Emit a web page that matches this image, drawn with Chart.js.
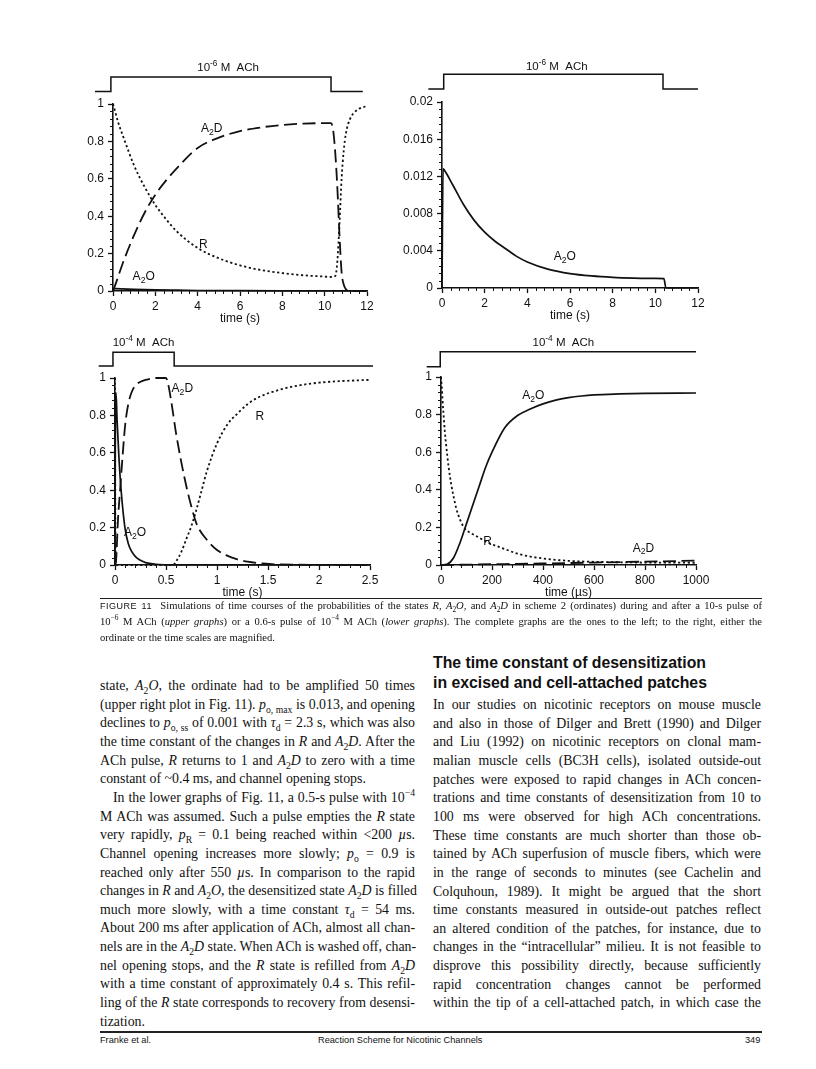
<!DOCTYPE html>
<html>
<head>
<meta charset="utf-8">
<script src="https://cdn.jsdelivr.net/npm/chart.js@4.4.1/dist/chart.umd.min.js"></script>
<style>
body { margin: 0; background: #fff; }
#page { position: relative; width: 816px; height: 1069px; overflow: hidden; background: #fff; color: #111; }
canvas { position: absolute; }
.ln { position: absolute; white-space: nowrap; font-family: 'Liberation Serif', 'Times New Roman', serif; font-size: 13.85px; line-height: 18px; text-align: justify; text-align-last: justify; }
.ln.end { text-align-last: left; }
.ln.ind { text-indent: 13px; }
.cap { position: absolute; left: 100px; width: 662px; white-space: nowrap; font-family: 'Liberation Serif', 'Times New Roman', serif; font-size: 10.6px; line-height: 14px; text-align: justify; text-align-last: justify; }
.cap.end { text-align-last: left; }
.fig { font-family: 'Liberation Sans', Arial, sans-serif; font-size: 9px; letter-spacing: 0.5px; }
.head { position: absolute; left: 433px; font-family: 'Liberation Sans', Arial, sans-serif; font-weight: bold; font-size: 15.8px; line-height: 20px; white-space: nowrap; }
.foot { position: absolute; top: 1034px; font-family: 'Liberation Sans', Arial, sans-serif; font-size: 9.2px; line-height: 12px; white-space: nowrap; }
.rule { position: absolute; left: 100px; width: 662px; background: #222; }
sub, sup { font-size: 70%; line-height: 0; }
</style>
</head>
<body>
<div id="page">
  <canvas id="c1"></canvas>
  <canvas id="c2"></canvas>
  <canvas id="c3"></canvas>
  <canvas id="c4"></canvas>
</div>
<script>
// ---- upper left: 10^-6 M ACh, 0-12 s
const t1R = [0, 0.1, 0.25, 0.5, 1, 1.5, 2, 2.5, 3, 4, 5, 6, 7, 8, 9, 10, 10.3, 10.5, 10.6, 10.7, 10.8, 10.9, 11, 11.2, 11.5, 12];
const p1R = [1, 0.96, 0.9, 0.82, 0.67, 0.555, 0.46, 0.385, 0.32, 0.23, 0.175, 0.137, 0.112, 0.096, 0.084, 0.077, 0.075, 0.08, 0.16, 0.36, 0.6, 0.75, 0.84, 0.92, 0.965, 0.99];
const t1D = [0, 0.1, 0.5, 1, 1.5, 2, 2.5, 3, 4, 5, 6, 7, 8, 9, 10.3, 10.4, 10.5, 10.6, 10.7, 10.8, 10.9, 11, 11.2, 12];
const p1D = [0, 0.03, 0.16, 0.3, 0.42, 0.515, 0.59, 0.655, 0.765, 0.82, 0.855, 0.875, 0.888, 0.895, 0.898, 0.86, 0.74, 0.55, 0.3, 0.1, 0.035, 0.01, 0, 0];
const t1O = [0, 0.05, 0.1, 1, 2, 3, 4, 6, 8, 10.3, 10.5, 12];
const p1O = [0, 0.013, 0.0127, 0.009, 0.006, 0.0042, 0.0028, 0.0016, 0.0012, 0.001, 0, 0];
const pulse1T = [-0.85, -0.1, -0.1, 10.3, 10.3, 11.8];
const pulse1 = [0, 0, 1, 1, 0, 0];

// ---- upper right: A2O magnified
const t2O = [0, 0.05, 0.1, 0.5, 1, 1.5, 2, 2.5, 3, 3.5, 4, 5, 6, 7, 8, 9, 10, 10.4, 10.5, 12];
const p2O = [0, 0.0128, 0.0127, 0.0111, 0.009, 0.0073, 0.006, 0.005, 0.0042, 0.0034, 0.0028, 0.002, 0.00155, 0.0013, 0.00115, 0.00107, 0.00103, 0.001, 0, 0];
const pulse2T = [-0.64, 0.08, 0.08, 10.36, 10.36, 12];
const pulse2 = [0, 0, 1, 1, 0, 0];

// ---- lower left: 10^-4 M ACh, 0-2.5 s
const t3R = [0, 0.003, 0.01, 0.57, 0.6, 0.65, 0.7, 0.75, 0.8, 0.85, 0.9, 1, 1.1, 1.2, 1.3, 1.4, 1.6, 1.8, 2, 2.2, 2.5];
const p3R = [1, 0.3, 0, 0, 0.02, 0.07, 0.14, 0.21, 0.3, 0.4, 0.5, 0.65, 0.75, 0.81, 0.86, 0.895, 0.935, 0.96, 0.975, 0.983, 0.99];
const t3D = [0, 0.01, 0.03, 0.05, 0.07, 0.1, 0.13, 0.16, 0.2, 0.25, 0.3, 0.4, 0.5, 0.52, 0.55, 0.6, 0.65, 0.7, 0.75, 0.8, 0.9, 1, 1.1, 1.2, 1.3, 1.45, 1.6, 2.5];
const p3D = [0, 0.02, 0.25, 0.4, 0.55, 0.75, 0.86, 0.92, 0.96, 0.98, 0.99, 1, 1, 0.97, 0.88, 0.7, 0.55, 0.42, 0.31, 0.22, 0.135, 0.08, 0.05, 0.03, 0.018, 0.008, 0.003, 0];
const t3O = [0, 0.002, 0.01, 0.02, 0.04, 0.06, 0.08, 0.1, 0.13, 0.16, 0.2, 0.25, 0.3, 0.4, 0.5, 0.6, 2.5];
const p3O = [0, 0.5, 0.92, 0.78, 0.56, 0.4, 0.28, 0.19, 0.115, 0.075, 0.045, 0.025, 0.013, 0.004, 0.001, 0, 0];
const pulse3T = [-0.16, -0.02, -0.02, 0.58, 0.58, 2.53];
const pulse3 = [0, 0, 1, 1, 0, 0];

// ---- lower right: 10^-4 M ACh, 0-1000 us
const t4O = [0, 25, 50, 75, 100, 125, 150, 175, 200, 250, 300, 350, 400, 450, 500, 550, 600, 700, 800, 1000];
const p4O = [0, 0.005, 0.04, 0.12, 0.22, 0.32, 0.42, 0.52, 0.6, 0.73, 0.795, 0.83, 0.857, 0.877, 0.89, 0.899, 0.905, 0.91, 0.913, 0.915];
const t4R = [0, 3, 6, 10, 15, 20, 30, 40, 50, 60, 75, 90, 110, 130, 150, 175, 200, 250, 300, 350, 400, 500, 600, 800, 1000];
const p4R = [1, 0.95, 0.88, 0.8, 0.71, 0.64, 0.52, 0.43, 0.36, 0.3, 0.24, 0.2, 0.175, 0.16, 0.145, 0.125, 0.11, 0.085, 0.06, 0.045, 0.035, 0.022, 0.017, 0.013, 0.012];
const t4D = [0, 200, 400, 600, 800, 1000];
const p4D = [0, 0.004, 0.008, 0.013, 0.018, 0.023];
const pulse4T = [-56, -3, -3, 1000];
const pulse4 = [0, 0, 1, 1];

const INK = '#111';
const sans = "'Liberation Sans', Arial, Helvetica, sans-serif";
const tickFont = { family: sans, size: 12 };
const YW = 55, PT = 50, PR = 20, XH = 35;

function pts(xs, ys) { return xs.map((x, i) => ({ x: x, y: ys[i] })); }

const styles = {
  R: { borderDash: [2.2, 2.6], borderWidth: 1.8 },
  D: { borderDash: [13, 5.5], borderWidth: 1.8 },
  O: { borderDash: [], borderWidth: 1.7 }
};

function curve(xs, ys, kind) {
  return Object.assign({
    data: pts(xs, ys), borderColor: INK, pointRadius: 0, fill: false,
    cubicInterpolationMode: 'monotone', clip: 4, yAxisID: 'y'
  }, styles[kind]);
}

function pulseSet(xs, ys) {
  // reversed so the line is drawn over its whole length, beyond the x range
  return { data: pts(xs, ys).reverse(), borderColor: INK, borderWidth: 1.5, pointRadius: 0,
    tension: 0, clip: false, yAxisID: 'yp' };
}

function fmt(v) { return String(+v.toFixed(4)); }

function minorValues(min, max, step, major) {
  const out = [];
  for (let i = 0; ; i++) {
    const v = min + i * step;
    if (v > max + step * 1e-6) break;
    const r = v / major;
    if (Math.abs(r - Math.round(r)) > 1e-6) out.push(v);
  }
  return out;
}

function drawRich(ctx, parts, cx, cy, size) {
  const fs = k => (k ? size * 0.72 : size);
  let w = 0;
  parts.forEach(p => { ctx.font = fs(p[1]) + 'px ' + sans; w += ctx.measureText(p[0]).width; });
  let x = cx - w / 2;
  ctx.textAlign = 'left';
  ctx.textBaseline = 'middle';
  parts.forEach(p => {
    ctx.font = fs(p[1]) + 'px ' + sans;
    const dy = p[1] === 'b' ? size * 0.32 : (p[1] === 'p' ? -size * 0.38 : 0);
    ctx.fillText(p[0], x, cy + dy);
    x += ctx.measureText(p[0]).width;
  });
}

const paper = {
  id: 'paper',
  afterDraw(chart) {
    const o = chart.options.plugins.paper;
    const ctx = chart.ctx, xs = chart.scales.x, ys = chart.scales.y, ps = chart.scales.yp;
    const a = chart.chartArea;
    ctx.save();
    ctx.strokeStyle = INK;
    ctx.lineWidth = 1;
    ctx.beginPath();
    minorValues(xs.min, xs.max, o.minorX, o.majorX).forEach(v => {
      const p = Math.round(xs.getPixelForValue(v)) + 0.5;
      ctx.moveTo(p, a.bottom); ctx.lineTo(p, a.bottom + 3);
    });
    minorValues(ys.min, ys.max, o.minorY, o.majorY).forEach(v => {
      const p = Math.round(ys.getPixelForValue(v)) + 0.5;
      ctx.moveTo(a.left, p); ctx.lineTo(a.left - 3, p);
    });
    ctx.stroke();
    ctx.fillStyle = INK;
    o.labels.forEach(l => drawRich(ctx, l.parts, xs.getPixelForValue(l.x), ys.getPixelForValue(l.y), 12));
    const pl = o.pulseLabel;
    drawRich(ctx, pl.parts, xs.getPixelForValue(pl.x), ps.getPixelForValue(pl.y), 11.5);
    ctx.restore();
  }
};

function xAxis(max, step, title) {
  return {
    type: 'linear', min: 0, max: max, position: 'bottom',
    border: { display: true, color: INK, width: 1.6 },
    grid: { display: true, drawOnChartArea: false, drawTicks: true, tickLength: 5, color: INK, tickWidth: 1.3 },
    ticks: { stepSize: step, color: INK, font: tickFont, padding: 3, maxRotation: 0, autoSkip: false, callback: fmt },
    title: { display: true, text: title, color: INK, font: tickFont, padding: { top: 0, bottom: 0 } },
    afterFit: s => { s.height = XH; s.paddingLeft = 0; s.paddingRight = 0; }
  };
}

function yAxis(max, step) {
  return {
    type: 'linear', min: 0, max: max, position: 'left',
    border: { display: true, color: INK, width: 1.6 },
    grid: { display: true, drawOnChartArea: false, drawTicks: true, tickLength: 5, color: INK, tickWidth: 1.3 },
    ticks: { stepSize: step, color: INK, font: tickFont, padding: 4, autoSkip: false, callback: fmt },
    afterFit: s => { s.width = YW; s.paddingTop = 0; s.paddingBottom = 0; }
  };
}

function panel(id, g, cfg) {
  const cv = document.getElementById(id);
  const w = YW + (g.r - g.l) + PR, h = PT + (g.b - g.t) + XH;
  cv.width = w; cv.height = h;
  cv.style.left = (g.l - YW) + 'px';
  cv.style.top = (g.t - PT) + 'px';
  // hidden axis that puts pulse level 0/1 at the given pixel rows above the plot
  const unit = g.off - g.on;
  const pmin = -(g.b - g.off) / unit;
  const pmax = pmin + (g.b - g.t) / unit;
  return new Chart(cv, {
    type: 'line',
    data: { datasets: cfg.datasets },
    options: {
      responsive: false, animation: false, devicePixelRatio: 1,
      layout: { padding: { top: PT, right: PR, left: 0, bottom: 0 } },
      scales: {
        x: xAxis(cfg.xmax, cfg.xstep, cfg.xtitle),
        y: yAxis(cfg.ymax, cfg.ystep),
        yp: { type: 'linear', display: false, min: pmin, max: pmax }
      },
      plugins: {
        legend: { display: false }, tooltip: { enabled: false },
        paper: cfg.paper
      }
    },
    plugins: [paper]
  });
}

const A2D = [['A', ''], ['2', 'b'], ['D', '']];
const A2O = [['A', ''], ['2', 'b'], ['O', '']];
const M6 = [['10', ''], ['-6', 'p'], [' M  ACh', '']];
const M4 = [['10', ''], ['-4', 'p'], [' M  ACh', '']];

panel('c1', { l: 112.5, r: 367, t: 104, b: 291, off: 91.5, on: 77 }, {
  xmax: 12, xstep: 2, ymax: 1, ystep: 0.2, xtitle: 'time (s)',
  datasets: [curve(t1R, p1R, 'R'), curve(t1D, p1D, 'D'), curve(t1O, p1O, 'O'), pulseSet(pulse1T, pulse1)],
  paper: { minorX: 0.4, majorX: 2, minorY: 0.04, majorY: 0.2,
    labels: [{ parts: A2D, x: 4.66, y: 0.87 }, { parts: [['R', '']], x: 4.27, y: 0.25 }, { parts: A2O, x: 1.45, y: 0.075 }],
    pulseLabel: { parts: M6, x: 5.44, y: 1.62 } }
});

panel('c2', { l: 442, r: 698, t: 102, b: 288, off: 89, on: 74.3 }, {
  xmax: 12, xstep: 2, ymax: 0.02, ystep: 0.004, xtitle: 'time (s)',
  datasets: [curve(t2O, p2O, 'O'), pulseSet(pulse2T, pulse2)],
  paper: { minorX: 0.4, majorX: 2, minorY: 0.0008, majorY: 0.004,
    labels: [{ parts: A2O, x: 5.76, y: 0.0034 }],
    pulseLabel: { parts: M6, x: 5.38, y: 1.52 } }
});

panel('c3', { l: 115, r: 370, t: 378, b: 565, off: 366, on: 352.3 }, {
  xmax: 2.5, xstep: 0.5, ymax: 1, ystep: 0.2, xtitle: 'time (s)',
  datasets: [curve(t3R, p3R, 'R'), curve(t3D, p3D, 'D'), curve(t3O, p3O, 'O'), pulseSet(pulse3T, pulse3)],
  paper: { minorX: 0.1, majorX: 0.5, minorY: 0.04, majorY: 0.2,
    labels: [{ parts: A2D, x: 0.66, y: 0.945 }, { parts: [['R', '']], x: 1.42, y: 0.795 }, { parts: A2O, x: 0.196, y: 0.173 }],
    pulseLabel: { parts: M4, x: 0.28, y: 1.66 } }
});

panel('c4', { l: 441, r: 696, t: 377, b: 565, off: 366.7, on: 351.7 }, {
  xmax: 1000, xstep: 200, ymax: 1, ystep: 0.2, xtitle: 'time (\u00b5s)',
  datasets: [curve(t4R, p4R, 'R'), curve(t4D, p4D, 'D'), curve(t4O, p4O, 'O'), pulseSet(pulse4T, pulse4)],
  paper: { minorX: 40, majorX: 200, minorY: 0.04, majorY: 0.2,
    labels: [{ parts: A2O, x: 362, y: 0.9 }, { parts: [['R', '']], x: 183, y: 0.125 }, { parts: A2D, x: 794, y: 0.089 }],
    pulseLabel: { parts: M4, x: 480, y: 1.56 } }
});

// ---- caption and page text
const page = document.getElementById('page');
function add(cls, html, css) {
  const d = document.createElement('div');
  d.className = cls;
  d.innerHTML = html;
  Object.assign(d.style, css);
  page.appendChild(d);
  return d;
}

add('rule', '', { top: '598px', height: '1px' });
const caption = [
  '<span class="fig">FIGURE 11</span>&nbsp; Simulations of time courses of the probabilities of the states <i>R</i>, <i>A</i><sub>2</sub><i>O</i>, and <i>A</i><sub>2</sub><i>D</i> in scheme 2 (ordinates) during and after a 10-s pulse of',
  '10<sup>\u22126</sup> M ACh (<i>upper graphs</i>) or a 0.6-s pulse of 10<sup>\u22124</sup> M ACh (<i>lower graphs</i>). The complete graphs are the ones to the left; to the right, either the',
  'ordinate or the time scales are magnified.'
];
caption.forEach((c, i) => add('cap' + (i === 2 ? ' end' : ''), c, { top: (599 + i * 16) + 'px' }));

const A2Oi = '<i>A</i><sub>2</sub><i>O</i>', A2Di = '<i>A</i><sub>2</sub><i>D</i>';
const leftCol = [
  'state, ' + A2Oi + ', the ordinate had to be amplified 50 times',
  '(upper right plot in Fig. 11). <i>p</i><sub>o, max</sub> is 0.013, and opening',
  'declines to <i>p</i><sub>o, ss</sub> of 0.001 with <i>\u03c4</i><sub>d</sub> = 2.3 s, which was also',
  'the time constant of the changes in <i>R</i> and ' + A2Di + '. After the',
  'ACh pulse, <i>R</i> returns to 1 and ' + A2Di + ' to zero with a time',
  'constant of ~0.4 ms, and channel opening stops.',
  'In the lower graphs of Fig. 11, a 0.5-s pulse with 10<sup>\u22124</sup>',
  'M ACh was assumed. Such a pulse empties the <i>R</i> state',
  'very rapidly, <i>p</i><sub>R</sub> = 0.1 being reached within &lt;200 <i>\u00b5</i>s.',
  'Channel opening increases more slowly; <i>p</i><sub>o</sub> = 0.9 is',
  'reached only after 550 <i>\u00b5</i>s. In comparison to the rapid',
  'changes in <i>R</i> and ' + A2Oi + ', the desensitized state ' + A2Di + ' is filled',
  'much more slowly, with a time constant <i>\u03c4</i><sub>d</sub> = 54 ms.',
  'About 200 ms after application of ACh, almost all chan-',
  'nels are in the ' + A2Di + ' state. When ACh is washed off, chan-',
  'nel opening stops, and the <i>R</i> state is refilled from ' + A2Di,
  'with a time constant of approximately 0.4 s. This refil-',
  'ling of the <i>R</i> state corresponds to recovery from desensi-',
  'tization.'
];
const leftEnds = [5, 18];
leftCol.forEach((l, i) => {
  let cls = 'ln';
  if (leftEnds.includes(i)) cls += ' end';
  if (i === 6) cls += ' ind';
  add(cls, l, { left: '100px', width: '315px', top: (677 + i * 18.65) + 'px' });
});

add('head', 'The time constant of desensitization', { top: '653px' });
add('head', 'in excised and cell-attached patches', { top: '673px' });

const rightCol = [
  'In our studies on nicotinic receptors on mouse muscle',
  'and also in those of Dilger and Brett (1990) and Dilger',
  'and Liu (1992) on nicotinic receptors on clonal mam-',
  'malian muscle cells (BC3H cells), isolated outside-out',
  'patches were exposed to rapid changes in ACh concen-',
  'trations and time constants of desensitization from 10 to',
  '100 ms were observed for high ACh concentrations.',
  'These time constants are much shorter than those ob-',
  'tained by ACh superfusion of muscle fibers, which were',
  'in the range of seconds to minutes (see Cachelin and',
  'Colquhoun, 1989). It might be argued that the short',
  'time constants measured in outside-out patches reflect',
  'an altered condition of the patches, for instance, due to',
  'changes in the \u201cintracellular\u201d milieu. It is not feasible to',
  'disprove this possibility directly, because sufficiently',
  'rapid concentration changes cannot be performed',
  'within the tip of a cell-attached patch, in which case the'
];
rightCol.forEach((l, i) => add('ln', l, { left: '433px', width: '328px', top: (696 + i * 18.65) + 'px' }));

add('rule', '', { top: '1031px', height: '1.5px' });
add('foot', 'Franke et al.', { left: '100px' });
add('foot', 'Reaction Scheme for Nicotinic Channels', { left: '318px' });
add('foot', '349', { left: '745px' });
</script>
</body>
</html>
